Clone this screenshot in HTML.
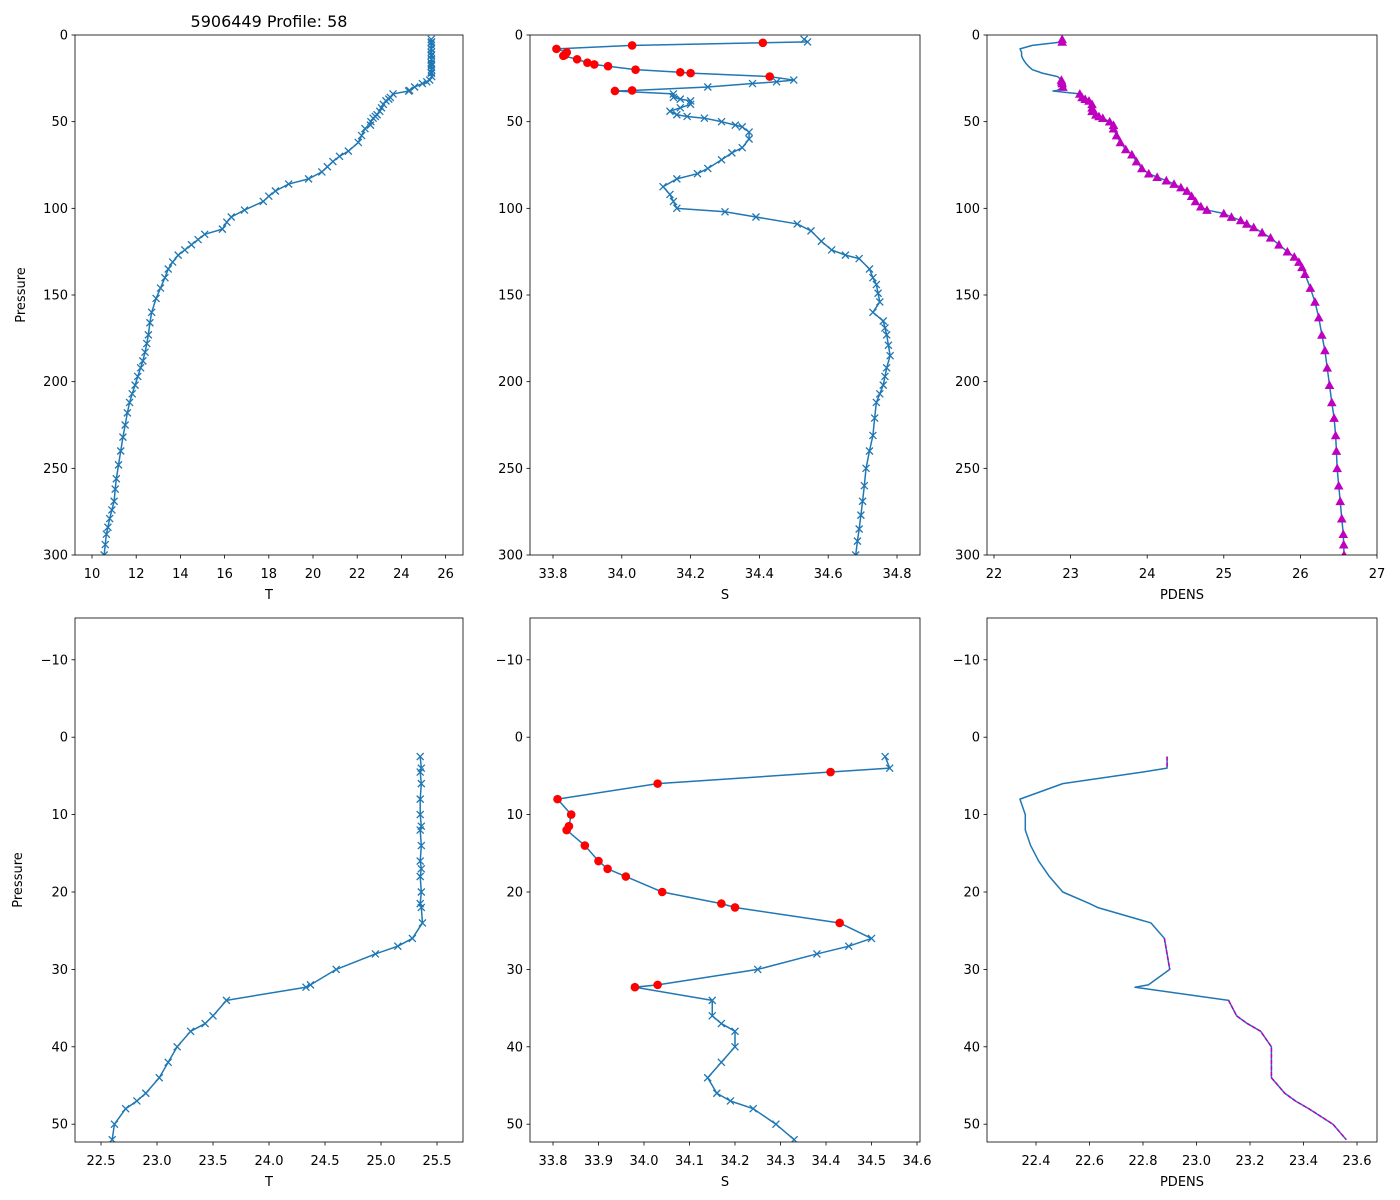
<!DOCTYPE html>
<html><head><meta charset="utf-8">
<style>
html,body{margin:0;padding:0;background:#fff;}
svg{display:block;font-family:"DejaVu Sans","Liberation Sans",sans-serif;}
</style></head>
<body>
<svg id="fig" width="1400" height="1200" viewBox="0 0 1400 1200" xmlns="http://www.w3.org/2000/svg">
<rect width="1400" height="1200" fill="#fff"/>
<text x="269" y="27" font-size="16" text-anchor="middle">5906449 Profile: 58</text>
</svg>
<script>
// Shallow (high-res) profile, shared pressure grid
const presShallow = [2.5,4,4.5,6,8,10,11.5,12,14,16,17,18,20,21.5,22,24,26,27,28,30,32,32.3,34,36,37,38,40,42,44,46,47,48,50,52];
const tempShallow = [25.35,25.36,25.35,25.36,25.35,25.35,25.36,25.35,25.36,25.35,25.36,25.35,25.36,25.35,25.36,25.37,25.28,25.15,24.95,24.6,24.37,24.33,23.62,23.5,23.43,23.3,23.18,23.1,23.02,22.9,22.82,22.72,22.62,22.6];
const salShallow = [34.53,34.54,34.41,34.03,33.81,33.84,33.835,33.83,33.87,33.90,33.92,33.96,34.04,34.17,34.2,34.43,34.5,34.45,34.38,34.25,34.03,33.98,34.15,34.15,34.17,34.2,34.2,34.17,34.14,34.16,34.19,34.24,34.29,34.33];
const densShallow = [22.89,22.89,22.8,22.5,22.34,22.36,22.36,22.36,22.38,22.41,22.43,22.45,22.5,22.6,22.63,22.83,22.88,22.885,22.89,22.9,22.82,22.77,23.12,23.15,23.19,23.24,23.28,23.28,23.28,23.33,23.37,23.42,23.51,23.56];
const flagged = [0,0,1,1,1,1,1,1,1,1,1,1,1,1,1,1,0,0,0,0,1,1,0,0,0,0,0,0,0,0,0,0,0,0];
// Deep profile readings
const presDeepT = [54,58,62,67,70,73,76,79,83,86,90,93,96,101,105,108,112,115,118,121,124,127,131,135,140,146,152,160,166,173,178,183,188,192,197,202,207,212,218,225,232,240,248,256,262,269,274,279,284,288,294,300];
const tempDeep = [22.35,22.2,22.05,21.6,21.2,20.9,20.65,20.4,19.8,18.9,18.3,18.0,17.75,16.9,16.3,16.1,15.9,15.1,14.8,14.5,14.2,13.9,13.65,13.45,13.3,13.1,12.9,12.7,12.62,12.55,12.48,12.4,12.3,12.2,12.07,11.95,11.82,11.7,11.6,11.5,11.4,11.3,11.2,11.1,11.05,11.0,10.9,10.8,10.72,10.65,10.6,10.55];
const presDeepS = [53,56,60,65,68,72,77,80,83,87.5,92,96,100,102,105,109,113,119,124,127,129,135,140,144,149,154,160,165,169,173,179,185,192,197,202,207,212,221,231,240,250,260,269,277,285,292,300];
const salDeep = [34.35,34.37,34.37,34.35,34.32,34.29,34.25,34.22,34.16,34.12,34.14,34.15,34.16,34.30,34.39,34.51,34.55,34.58,34.61,34.65,34.69,34.72,34.73,34.74,34.745,34.75,34.73,34.76,34.765,34.77,34.775,34.78,34.77,34.765,34.76,34.75,34.74,34.735,34.73,34.72,34.71,34.705,34.70,34.695,34.69,34.685,34.68];
const presDeepD = [54,58,62,66,69,73,77,80,82,84,86,88,90,93,96,99,101,103,105,107,109,111,114,117,121,125,128,131,134,138,146,154,163,173,182,192,202,212,221,231,240,250,260,269,279,288,294,300];
const densDeep = [23.56,23.6,23.65,23.72,23.8,23.86,23.93,24.02,24.13,24.25,24.35,24.44,24.52,24.58,24.63,24.7,24.78,25.0,25.1,25.22,25.3,25.39,25.5,25.61,25.72,25.83,25.92,25.98,26.02,26.06,26.13,26.19,26.24,26.28,26.32,26.35,26.38,26.41,26.44,26.46,26.47,26.48,26.5,26.52,26.54,26.56,26.565,26.57];
// Tick labels
const topYTicks = [0,50,100,150,200,250,300];
const botYTicks = [-10,0,10,20,30,40,50];
const topTTicks = [10,12,14,16,18,20,22,24,26];
const topSTicks = [33.8,34.0,34.2,34.4,34.6,34.8];
const topDTicks = [22,23,24,25,26,27];
const botTTicks = [22.5,23.0,23.5,24.0,24.5,25.0,25.5];
const botSTicks = [33.8,33.9,34.0,34.1,34.2,34.3,34.4,34.5,34.6];
const botDTicks = [22.4,22.6,22.8,23.0,23.2,23.4,23.6];

const NS="http://www.w3.org/2000/svg";
const svg=document.getElementById('fig');
function el(tag,attrs,parent){const e=document.createElementNS(NS,tag);for(const k in attrs)e.setAttribute(k,attrs[k]);(parent||svg).appendChild(e);return e;}
const BLUE="#1f77b4";

function makeAxes(name,x0,x1,y0,y1,xd0,xd1,yd0,yd1,xticks,yticks,xlabel,ylab,dec){
  const g=el('g',{});
  
  
  const sx=v=>x0+(v-xd0)/(xd1-xd0)*(x1-x0);
  const sy=v=>y0+(v-yd0)/(yd1-yd0)*(y1-y0);
  const clipId='clip-'+name;
  const cp=el('clipPath',{id:clipId},g);el('rect',{x:x0,y:y0,width:x1-x0,height:y1-y0},cp);
  const plot=el('g',{'clip-path':'url(#'+clipId+')'},g);
  
  
  xticks.forEach(t=>{const x=sx(t);
    el('line',{x1:x,x2:x,y1:y1,y2:y1+3.5,stroke:'#000','stroke-width':0.8},g);
    const tx=el('text',{x:x,y:y1+23,'font-size':13,'text-anchor':'middle'},g);
    
    
    tx.textContent=t.toFixed(dec);});
  yticks.forEach(t=>{const y=sy(t);
    el('line',{x1:x0-3.5,x2:x0,y1:y,y2:y,stroke:'#000','stroke-width':0.8},g);
    const tx=el('text',{x:x0-7,y:y+4.5,'font-size':13,'text-anchor':'end'},g);
    
    
    tx.textContent=(t<0?'\u2212'+(-t):String(t));});
  const xl=el('text',{x:(x0+x1)/2,y:y1+44,'font-size':13,'text-anchor':'middle'},g);
  
  
  xl.textContent=xlabel;
  if(ylab){const yx=ylab;
    const yl=el('text',{x:yx,y:(y0+y1)/2,'font-size':13,'text-anchor':'middle',transform:'rotate(-90 '+yx+' '+((y0+y1)/2)+')'},g);
    
    
    yl.textContent='Pressure';}
  return {g,plot,sx,sy,frame:()=>el('rect',{x:x0,y:y0,width:x1-x0,height:y1-y0,fill:'none',stroke:'#000','stroke-width':0.8},g)};
}
function line(ax,xs,ps,color,w,dash,name){
  const d=xs.map((v,i)=>(i?'L':'M')+ax.sx(v).toFixed(2)+' '+ax.sy(ps[i]).toFixed(2)).join('');
  const a={d:d,fill:'none',stroke:color,'stroke-width':w,'stroke-linejoin':'round'};
  if(dash)a['stroke-dasharray']=dash;
  const p=el('path',a,ax.plot);
  
  
}
function xMark(ax,v,p,name){const x=ax.sx(v),y=ax.sy(p),r=3.5;
  const m=el('path',{d:`M${x-r} ${y-r}L${x+r} ${y+r}M${x-r} ${y+r}L${x+r} ${y-r}`,stroke:BLUE,'stroke-width':1.3},ax.plot);
  
  }
function dot(ax,v,p,name){const c=el('circle',{cx:ax.sx(v),cy:ax.sy(p),r:4.3,fill:'#ff0000'},ax.plot);
  
  }
function tri(ax,v,p,name){const x=ax.sx(v),y=ax.sy(p),r=4.8;
  const t=el('path',{d:`M${x} ${y-r}L${x+r} ${y+r*0.8}L${x-r} ${y+r*0.8}Z`,fill:'#bf00bf'},ax.plot);
  
  }

// Top row
const axT=makeAxes('temp-full-axes',75,463,35,555,10-17/22.1,10+371/22.1,0,300,topTTicks,topYTicks,'T',25,0);
const axS=makeAxes('sal-full-axes',530,920,35,555,33.8-23/344,33.8+367/344,0,300,topSTicks,topYTicks,'S',0,1);
const axD=makeAxes('dens-full-axes',987,1377,35,555,22-7/76.6,27,0,300,topDTicks,topYTicks,'PDENS',0,0);
// Bottom row
const bT=makeAxes('temp-zoom-axes',75,463,618,1142,22.5-26/112,22.5+362/112,-15.4,52.3,botTTicks,botYTicks,'T',22,1);
const bS=makeAxes('sal-zoom-axes',530,920,618,1142,33.8-23/455,33.8+367/455,-15.4,52.3,botSTicks,botYTicks,'S',0,1);
const bD=makeAxes('dens-zoom-axes',987,1377,618,1142,22.4-49/267.5,22.4+341/267.5,-15.4,52.3,botDTicks,botYTicks,'PDENS',0,1);

const tAll=tempShallow.concat(tempDeep), pT=presShallow.concat(presDeepT);
const sAll=salShallow.concat(salDeep), pS=presShallow.concat(presDeepS);
const dAll=densShallow.concat(densDeep), pD=presShallow.concat(presDeepD);

// Temperature
[[axT,tAll,pT],[bT,tempShallow,presShallow]].forEach(([ax,xs,ps])=>{
  line(ax,xs,ps,BLUE,1.5,null,'temperature-line');
  xs.forEach((v,i)=>xMark(ax,v,ps[i],'temperature-point'));
});
// Salinity
[[axS,sAll,pS],[bS,salShallow,presShallow]].forEach(([ax,xs,ps])=>{
  line(ax,xs,ps,BLUE,1.5,null,'salinity-line');
  xs.forEach((v,i)=>{ if(i<flagged.length&&flagged[i]) dot(ax,v,ps[i],'salinity-flagged-point'); else xMark(ax,v,ps[i],'salinity-point'); });
});
// Density
line(axD,dAll,pD,BLUE,1.5,null,'density-line');
dAll.forEach((v,i)=>{ if(!(i<flagged.length&&flagged[i])) tri(axD,v,pD[i],'density-good-point'); });
line(bD,densShallow,presShallow,BLUE,1.5,null,'density-line');
// magenta overlay on unflagged segments
let seg=[];
function flush(){ if(seg.length>1) line(bD,seg.map(i=>densShallow[i]),seg.map(i=>presShallow[i]),'#bf00bf',1.5,'4,2','density-good-segment'); seg=[]; }
for(let i=0;i<densShallow.length;i++){ if(!flagged[i]) seg.push(i); else flush(); }
flush();

[axT,axS,axD,bT,bS,bD].forEach(a=>a.frame());
</script>
</body></html>
